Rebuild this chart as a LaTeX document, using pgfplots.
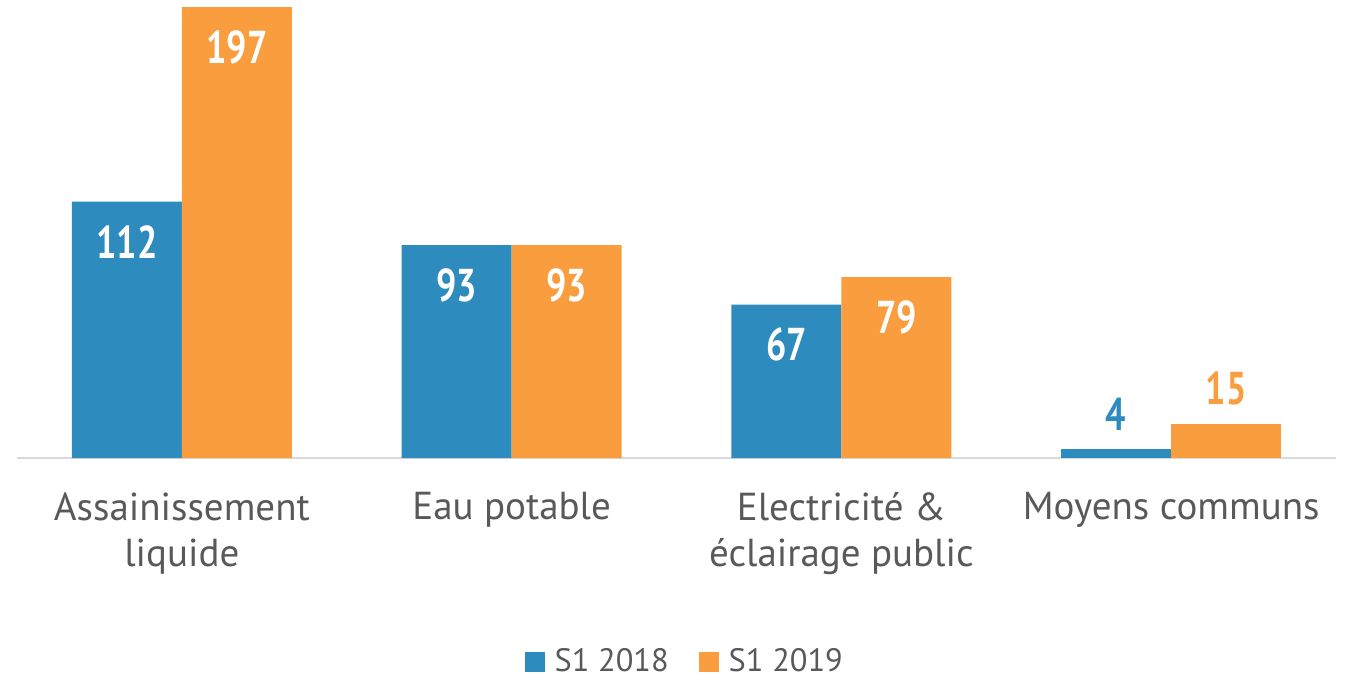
\documentclass[border=0pt]{standalone}
\usepackage{pgfplots}
\pgfplotsset{compat=1.18}
\usepackage{fontspec}
\setmainfont{PT Sans}
\newfontfamily\labfont{PT Sans Bold}[FakeStretch=0.78]
\definecolor{cblue}{HTML}{2E8BBE}
\definecolor{corange}{HTML}{F99D3E}
\definecolor{ctext}{HTML}{595959}
\definecolor{caxis}{HTML}{D9D9D9}
\begin{document}
\begin{tikzpicture}
\begin{axis}[
 scale only axis, width=659.5pt, height=225.5pt,
 xmin=-0.5, xmax=3.5, ymin=0, ymax=197,
 axis x line*=bottom, hide y axis,
 x axis line style={draw=caxis, line width=1pt, -},
 xtick={0,1,2,3},
 xticklabels={{Assainissement\\liquide},{Eau potable},{Electricité \&\\éclairage public},{Moyens communs}},
 xticklabel style={align=center, font=\fontsize{19.5}{23}\selectfont, text=ctext, inner sep=0pt, anchor=north, yshift=-17pt},
 major tick length=0pt,
 /pgf/number format/assume math mode=true,
 legend style={at={(0.507,-0.452)}, anchor=center, draw=none, legend columns=-1,
   font=\fontsize{16.2}{19}\selectfont, text=ctext,
   /tikz/every odd column/.append style={column sep=3pt},
   /tikz/every even column/.append style={column sep=13pt}},
 clip=false,
]
\addplot[ybar, bar width=55pt, bar shift=-27.5pt, fill=cblue, draw=none,
  legend image code/.code={\fill (-5pt,-5pt) rectangle (5pt,5pt);},
  nodes near coords,
  every node near coord/.append style={anchor=center, xshift=-27.5pt, yshift=-20pt, inner sep=0pt, text=white, font=\fontsize{23}{23}\labfont}]
  coordinates {(0,112) (1,93) (2,67)};
\addlegendentry{S1 2018}
\addplot[ybar, bar width=55pt, bar shift=27.5pt, fill=corange, draw=none,
  legend image code/.code={\fill (-5pt,-5pt) rectangle (5pt,5pt);},
  nodes near coords,
  every node near coord/.append style={anchor=center, xshift=27.5pt, yshift=-20pt, inner sep=0pt, text=white, font=\fontsize{23}{23}\labfont}]
  coordinates {(0,197) (1,93) (2,79)};
\addlegendentry{S1 2019}
\addplot[ybar, bar width=55pt, bar shift=-27.5pt, fill=cblue, draw=none, forget plot,
  nodes near coords,
  every node near coord/.append style={anchor=center, xshift=-27.5pt, yshift=17.5pt, inner sep=0pt, text=cblue, font=\fontsize{23}{23}\labfont}]
  coordinates {(3,4)};
\addplot[ybar, bar width=55pt, bar shift=27.5pt, fill=corange, draw=none, forget plot,
  nodes near coords,
  every node near coord/.append style={anchor=center, xshift=27.5pt, yshift=17.5pt, inner sep=0pt, text=corange, font=\fontsize{23}{23}\labfont}]
  coordinates {(3,15)};
\end{axis}
\pgfresetboundingbox
\path[use as bounding box] ([xshift=-8.5pt,yshift=-110.5pt]current axis.south west) rectangle ([xshift=5.5pt,yshift=3.5pt]current axis.north east);
\end{tikzpicture}
\end{document}
